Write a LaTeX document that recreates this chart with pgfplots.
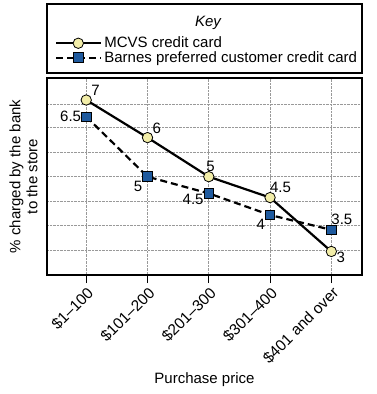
\documentclass[border=0pt]{standalone}
\usepackage{fontspec}
\setmainfont{Liberation Sans}
\usepackage{pgfplots}
\pgfplotsset{compat=1.18}
\definecolor{cyel}{HTML}{F2EDA8}
\definecolor{cblue}{HTML}{1F5A9E}
\pgfplotsset{
 lbl/.style={draw=none, mark=none, forget plot,
  nodes near coords, point meta=explicit symbolic,
  every node near coord/.style={anchor=#1, font=\fontsize{15}{15}\selectfont, inner sep=5pt, black}},
}
\begin{document}
\begin{tikzpicture}
\path[use as bounding box] (0pt,0pt) rectangle (376pt,394pt);
\draw[line width=1.4pt] (47pt,321pt) rectangle (362pt,390pt);
\node[font=\fontsize{15}{15}\selectfont\itshape] at (208pt,371pt) {Key};
\begin{axis}[
  at={(47pt,119pt)}, anchor=south west,
  width=315pt, height=197pt, scale only axis,
  xmin=-0.64, xmax=4.5, ymin=2.41, ymax=7.6,
  xtick={0,1,2,3,4},
  xticklabels={\$1--100,\$101--200,\$201--300,\$301--400,\$401 and over},
  ytick={3.07,3.71,4.36,5,5.65,6.30,6.91},
  yticklabels={},
  grid=major,
  major grid style={gray!80, densely dotted, line width=0.7pt},
  axis line style={line width=1.4pt},
  tick align=outside,
  xtick pos=bottom,
  major tick length=8pt,
  xtick style={black, line width=1.1pt},
  ytick style={draw=none},
  xticklabel style={rotate=45, anchor=north east, font=\fontsize{15.5}{15.5}\selectfont, inner sep=2pt},
  xlabel={Purchase price},
  xlabel style={font=\fontsize{15}{15}\selectfont, yshift=-1pt},
  ylabel={\% charged by the bank\\to the store},
  ylabel style={align=center, font=\fontsize{15}{17}\selectfont, yshift=-9pt},
  legend style={draw=none, fill=none, at={(0,1)}, anchor=south west, xshift=7pt, yshift=11pt,
    font=\fontsize{15}{15}\selectfont, row sep=-2pt, inner sep=1pt},
  legend cell align=left,
  legend image code/.code={\draw[mark repeat=2,mark phase=2,#1] plot coordinates {(0pt,0pt) (22pt,0pt) (45pt,0pt)};},
]
\addplot[black, line width=2.2pt, mark=*, mark size=5.2pt, mark options={fill=cyel, draw=black, line width=0.8pt, solid}]
  coordinates {(0,7.02) (1,6.03) (2,5.00) (3,4.45) (4,3.03)};
\addlegendentry{MCVS credit card}
\addplot[black, line width=2.2pt, dash pattern=on 7pt off 4pt, mark=square*, mark size=4.8pt, mark options={fill=cblue, draw=black, line width=0.8pt, solid}]
  coordinates {(0,6.58) (1,5.00) (2,4.56) (3,3.99) (4,3.60)};
\addlegendentry{Barnes preferred customer credit card}
% value labels
\addplot[lbl=225] coordinates {(0,7.02)[7] (1,6.03)[6] (3,4.45)[4.5]};
\addplot[lbl=260] coordinates {(2,5.00)[5]};
\addplot[lbl=150] coordinates {(4,3.03)[3]};
\addplot[lbl=0] coordinates {(0,6.58)[6.5]};
\addplot[lbl=45] coordinates {(1,5.00)[5] (3,3.99)[4]};
\addplot[lbl=20] coordinates {(2,4.56)[4.5]};
\addplot[lbl=225] coordinates {(4,3.60)[3.5]};
\end{axis}
\end{tikzpicture}
\end{document}
